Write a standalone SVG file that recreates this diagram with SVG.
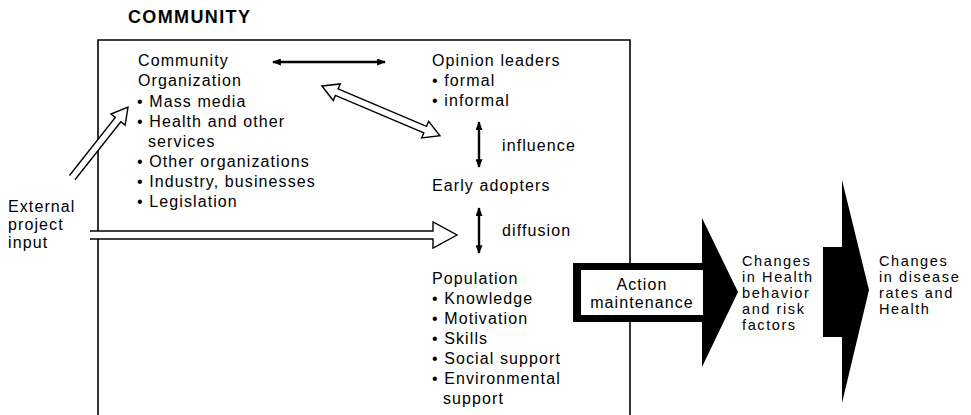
<svg xmlns="http://www.w3.org/2000/svg" width="971" height="415" viewBox="0 0 971 415">
<style>
text{font-family:"Liberation Sans",Arial,sans-serif;font-size:16px;letter-spacing:1.1px;fill:#000}
.title{font-weight:bold;font-size:18px;letter-spacing:0}
.sm{font-size:14.5px;letter-spacing:1.6px}
.frame{fill:none;stroke:#000;stroke-width:1.6}
.hollow{fill:#fff;stroke:#000;stroke-width:1.4;stroke-linejoin:miter}
.solid{fill:none;stroke:#000;stroke-width:2.4;marker-start:url(#ah);marker-end:url(#ah)}
.block{fill:#000;stroke:none}
.c{text-anchor:middle}
</style>
<defs>
<marker id="ah" viewBox="0 0 10 8" refX="9" refY="4" markerWidth="9" markerHeight="7" markerUnits="userSpaceOnUse" orient="auto-start-reverse">
<path d="M0,0 L10,4 L0,8 Z" fill="#000"/>
</marker>
</defs>
<rect width="971" height="415" fill="#fff"/>

<g id="community-box">
<text class="title" x="128" y="23" textLength="122" lengthAdjust="spacing">COMMUNITY</text>
<path class="frame" d="M98,415 V40 H630 V415"/>
</g>

<g id="community-organization">
<text x="138" y="66">Community</text>
<text x="138" y="86">Organization</text>
<text x="137" y="107">• Mass media</text>
<text x="137" y="127">• Health and other</text>
<text x="148" y="147">services</text>
<text x="137" y="167">• Other organizations</text>
<text x="137" y="187">• Industry, businesses</text>
<text x="137" y="207">• Legislation</text>
</g>

<g id="opinion-leaders">
<text x="432" y="66">Opinion leaders</text>
<text x="432" y="86">• formal</text>
<text x="432" y="106">• informal</text>
</g>

<g id="early-adopters">
<text x="432" y="191">Early adopters</text>
</g>

<g id="population">
<text x="432" y="284">Population</text>
<text x="432" y="304">• Knowledge</text>
<text x="432" y="324">• Motivation</text>
<text x="432" y="344">• Skills</text>
<text x="432" y="364">• Social support</text>
<text x="432" y="384">• Environmental</text>
<text x="443" y="404">support</text>
</g>

<g id="external-input">
<text x="8" y="212">External</text>
<text x="8" y="230">project</text>
<text x="8" y="248">input</text>
</g>

<g id="connectors">
<line class="solid" x1="273" y1="62" x2="385" y2="62"/>
<line class="solid" x1="479" y1="122" x2="479" y2="167"/>
<text x="502" y="151">influence</text>
<line class="solid" x1="479" y1="208" x2="479" y2="253"/>
<text x="502" y="236">diffusion</text>
<path class="hollow" transform="translate(322,86) rotate(22.9)" d="M0,0 L16,-9 L16,-3.5 L112,-3.5 L112,-9 L128,0 L112,9 L112,3.5 L16,3.5 L16,9 Z"/>
<path class="hollow" transform="translate(128,107) rotate(-51.7)" d="M-90,-3.5 L-16,-3.5 L-16,-9 L0,0 L-16,9 L-16,3.5 L-90,3.5"/>
<path class="hollow" d="M90,231 L433,231 L433,222 L457,235 L433,248 L433,239 L90,239"/>
</g>

<g id="action-maintenance">
<path class="block" d="M573,263 L702,263 L702,218 L738,292 L702,367 L702,322 L573,322 Z"/>
<rect x="581" y="270" width="122" height="45" fill="#fff"/>
<text class="c" x="642" y="290">Action</text>
<text class="c" x="642" y="308">maintenance</text>
</g>

<g id="health-behavior-changes">
<text class="sm" x="742" y="266">Changes</text>
<text class="sm" x="742" y="282">in Health</text>
<text class="sm" x="742" y="298">behavior</text>
<text class="sm" x="742" y="314">and risk</text>
<text class="sm" x="742" y="330">factors</text>
</g>

<g id="outcome-arrow">
<path class="block" d="M823,247 L842,247 L842,180 L869,290 L842,403 L842,337 L823,337 Z"/>
</g>

<g id="disease-changes">
<text class="sm" x="879" y="266">Changes</text>
<text class="sm" x="879" y="282">in disease</text>
<text class="sm" x="879" y="298">rates and</text>
<text class="sm" x="879" y="314">Health</text>
</g>
</svg>
